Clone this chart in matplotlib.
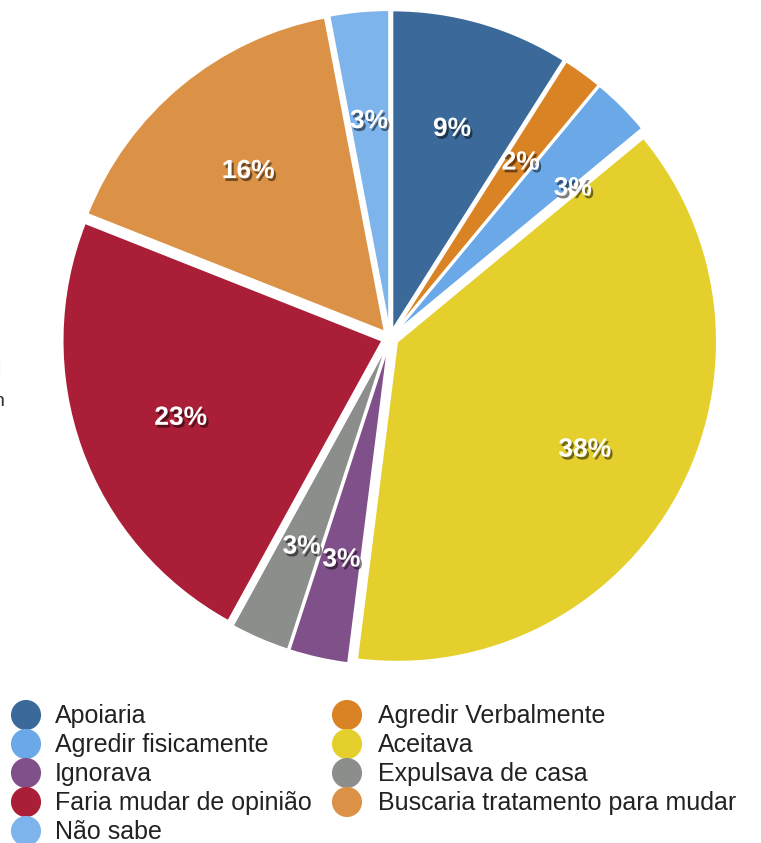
import matplotlib
matplotlib.use("Agg")
import matplotlib.pyplot as plt
import matplotlib.patheffects as pe

plt.rcParams['font.family'] = ['Liberation Sans', 'DejaVu Sans']

labels = ['Apoiaria', 'Agredir Verbalmente', 'Agredir fisicamente', 'Aceitava',
          'Ignorava', 'Expulsava de casa', 'Faria mudar de opinião',
          'Buscaria tratamento para mudar', 'Não sabe']
values = [9, 2, 3, 38, 3, 3, 23, 16, 3]
colors = ['#3B6A9A', '#D98325', '#6AA8E8', '#E4CF2C', '#80508A',
          '#8C8E8C', '#AB1E37', '#DB9246', '#7EB4EC']

W, H = 761, 843
fig = plt.figure(figsize=(W / 100, H / 100), dpi=100)

# legend drawn in pixel coordinates on a full-figure axes
lax = fig.add_axes([0, 0, 1, 1])
lax.set_xlim(0, W)
lax.set_ylim(H, 0)
lax.axis('off')

# pie: center (390, 338) px, radius 320 px
cx, cy, r = 390, 338, 320
lim = 1.05
half = lim * r
ax = fig.add_axes([(cx - half) / W, (H - cy - half) / H, 2 * half / W, 2 * half / H])

wedges, texts, autotexts = ax.pie(
    values, colors=colors, startangle=90, counterclock=False,
    explode=[0.025] * len(values),
    autopct='%1.0f%%', pctdistance=0.67,
    wedgeprops=dict(edgecolor='white', linewidth=1.5),
    textprops=dict(color='white', fontsize=19, fontweight='bold'))
ax.set_xlim(-lim, lim)
ax.set_ylim(-lim, lim)
ax.set_aspect('equal')

shadow = [pe.withSimplePatchShadow(offset=(1.5, -2), shadow_rgbFace='black', alpha=0.5)]
for t in autotexts:
    t.set_path_effects(shadow)
    x, y = t.get_position()
    t.set_position((x, y - 0.014))

# nudge the crowded small label to the right like the original
x, y = autotexts[2].get_position()
autotexts[2].set_position((x + 0.08, y - 0.01))

# legend, filled row by row
col_x = [26, 347]
text_x = [55, 378]
row_y0, row_step = 715, 29
for i, (lab, col) in enumerate(zip(labels, colors)):
    row, c = divmod(i, 2)
    yy = row_y0 + row * row_step
    lax.scatter([col_x[c]], [yy], s=470, color=col, edgecolors='none')
    lax.text(text_x[c], yy + 1, lab, fontsize=18, color='#222222', va='center', ha='left')

# cut-off fragments at the left edge
lax.text(1.5, 369, 'l', fontsize=14, color='#cccccc', va='center', ha='right')
lax.text(5, 402, 'n', fontsize=14, color='#333333', va='center', ha='right')

fig.savefig('out.png', dpi=100)
